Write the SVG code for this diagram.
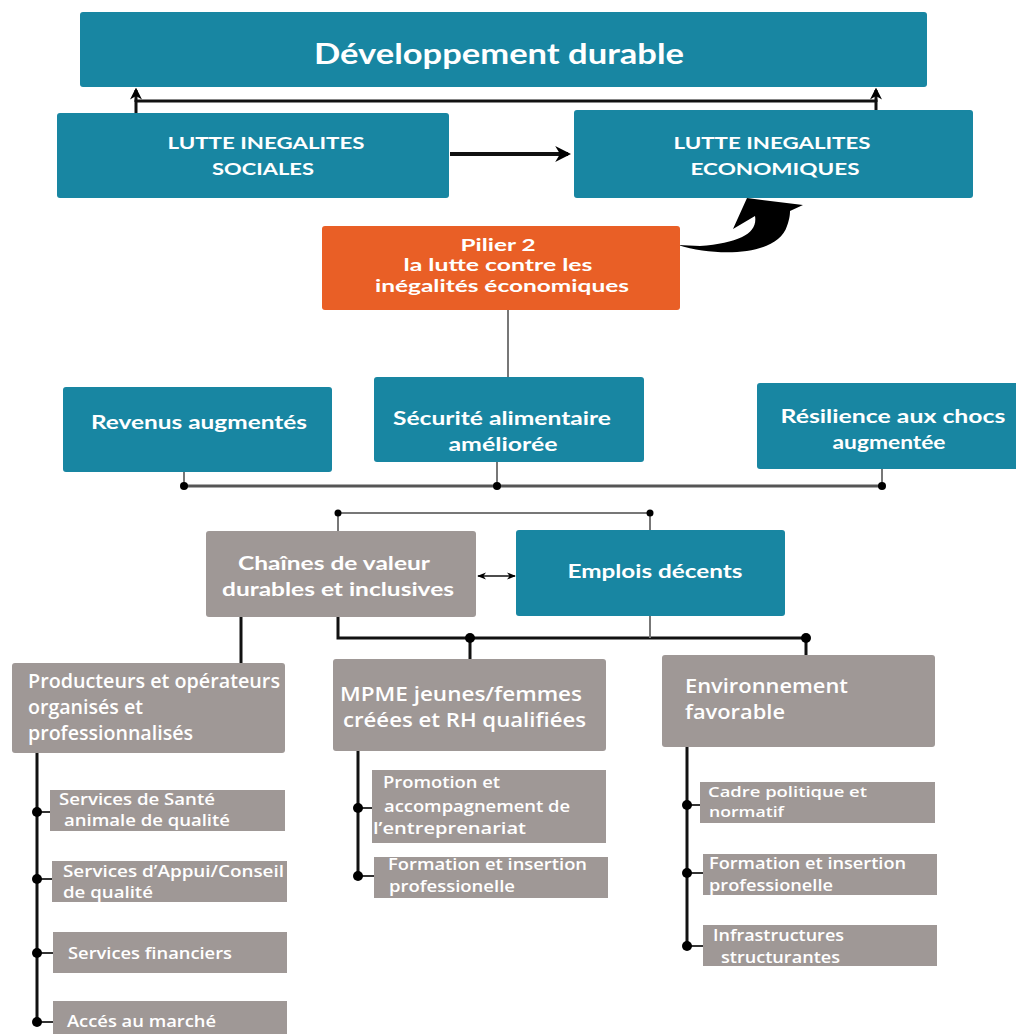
<svg xmlns="http://www.w3.org/2000/svg" width="1016" height="1034" viewBox="0 0 1016 1034">
<defs>
<style>
.teal{fill:#1886a2}
.gray{fill:#9f9896}
.orange{fill:#e95f26}
.t1{font-family:Lato,"Open Sans",sans-serif;font-weight:bold;fill:#fff;text-anchor:middle}
.t2{font-family:"Open Sans","Noto Sans",sans-serif;font-weight:600;fill:#fff}
.ln{stroke:#111;stroke-width:3;fill:none}
.lg{stroke:#777;stroke-width:2;fill:none}
.thin{stroke:#333;stroke-width:2;fill:none}
.dot{fill:#000}
</style>
<marker id="ah" viewBox="0 0 10 10" refX="8" refY="5" markerWidth="4" markerHeight="4" orient="auto-start-reverse">
<path d="M0,0 L10,5 L0,10 L3,5 Z" fill="#000"/>
</marker>
<marker id="ah2" viewBox="0 0 10 10" refX="9" refY="5" markerWidth="6" markerHeight="6" orient="auto-start-reverse">
<path d="M0,1 L10,5 L0,9 L3,5 Z" fill="#000"/>
</marker>
</defs>
<rect width="1016" height="1034" fill="#fff"/>

<g id="connectors">
<polyline class="ln" points="136,113 136,101 876,101 876,113"/>
<line class="ln" x1="136" y1="102" x2="136" y2="90" marker-end="url(#ah)"/>
<line class="ln" x1="876" y1="102" x2="876" y2="90" marker-end="url(#ah)"/>
<line x1="450" y1="154" x2="568" y2="154" stroke="#111" stroke-width="4" marker-end="url(#ah)"/>
<path d="M678,245 C720,258 778,255 787,226 C790,218 790,213 790,211 L803,205 L747,198 L733,229 L755,216 C758,233 740,243 700,246 Z" fill="#000"/>
<line class="lg" x1="508" y1="310" x2="508" y2="378"/>
<line class="lg" x1="184" y1="472" x2="184" y2="486"/>
<line class="lg" x1="497" y1="462" x2="497" y2="486"/>
<line class="lg" x1="882" y1="469" x2="882" y2="486"/>
<line x1="184" y1="486" x2="882" y2="486" stroke="#555" stroke-width="3"/>
<circle class="dot" cx="184" cy="486" r="4"/>
<circle class="dot" cx="497" cy="486" r="4"/>
<circle class="dot" cx="882" cy="486" r="4"/>
<polyline class="lg" points="338,531 338,513 650,513 650,530"/>
<circle class="dot" cx="338" cy="513" r="3.5"/>
<circle class="dot" cx="650" cy="513" r="3.5"/>
<line x1="478" y1="576" x2="515" y2="576" stroke="#111" stroke-width="1.5" marker-start="url(#ah2)" marker-end="url(#ah2)"/>
<polyline class="ln" points="338,617 338,638 806,638"/>
<line class="lg" x1="650" y1="616" x2="650" y2="638"/>
<line class="ln" x1="470" y1="638" x2="470" y2="659"/>
<line class="ln" x1="806" y1="638" x2="806" y2="655"/>
<circle class="dot" cx="470" cy="638" r="5"/>
<circle class="dot" cx="806" cy="638" r="5"/>
<line class="ln" x1="241" y1="617" x2="241" y2="663"/>
<line class="ln" x1="37" y1="753" x2="37" y2="1022"/>
<line class="thin" x1="37" y1="812" x2="50" y2="812"/>
<line class="thin" x1="37" y1="879" x2="52" y2="879"/>
<line class="thin" x1="37" y1="953" x2="53" y2="953"/>
<line class="thin" x1="37" y1="1022" x2="53" y2="1022"/>
<circle class="dot" cx="37" cy="812" r="5"/>
<circle class="dot" cx="37" cy="879" r="5"/>
<circle class="dot" cx="37" cy="953" r="5"/>
<circle class="dot" cx="37" cy="1022" r="5"/>
<line class="ln" x1="358" y1="751" x2="358" y2="876"/>
<line class="thin" x1="358" y1="808" x2="372" y2="808"/>
<line class="thin" x1="358" y1="876" x2="374" y2="876"/>
<circle class="dot" cx="358" cy="808" r="5"/>
<circle class="dot" cx="358" cy="876" r="5"/>
<line class="ln" x1="687" y1="747" x2="687" y2="946"/>
<line class="thin" x1="687" y1="805" x2="700" y2="805"/>
<line class="thin" x1="687" y1="873" x2="703" y2="873"/>
<line class="thin" x1="687" y1="946" x2="703" y2="946"/>
<circle class="dot" cx="687" cy="805" r="5"/>
<circle class="dot" cx="687" cy="873" r="5"/>
<circle class="dot" cx="687" cy="946" r="5"/>
</g>

<g id="n-dev"><rect class="teal" x="80" y="12" width="847" height="75" rx="3"/>
<text class="t1" x="499" y="64" font-size="29" textLength="370" lengthAdjust="spacingAndGlyphs">Développement durable</text></g>

<g id="n-soc"><rect class="teal" x="57" y="113" width="392" height="85" rx="3"/>
<text class="t1" x="266" y="149" font-size="17.5" textLength="197" lengthAdjust="spacingAndGlyphs">LUTTE INEGALITES</text>
<text class="t1" x="263" y="175" font-size="17.5" textLength="102" lengthAdjust="spacingAndGlyphs">SOCIALES</text></g>

<g id="n-eco"><rect class="teal" x="574" y="110" width="399" height="88" rx="3"/>
<text class="t1" x="772" y="149" font-size="17.5" textLength="197" lengthAdjust="spacingAndGlyphs">LUTTE INEGALITES</text>
<text class="t1" x="775" y="175" font-size="17.5" textLength="169" lengthAdjust="spacingAndGlyphs">ECONOMIQUES</text></g>

<g id="n-pilier"><rect class="orange" x="322" y="226" width="358" height="84" rx="3"/>
<text class="t1" x="498" y="251" font-size="17" textLength="75" lengthAdjust="spacingAndGlyphs">Pilier 2</text>
<text class="t1" x="498" y="271" font-size="17" textLength="189" lengthAdjust="spacingAndGlyphs">la lutte contre les</text>
<text class="t1" x="502" y="292" font-size="17" textLength="254" lengthAdjust="spacingAndGlyphs">inégalités économiques</text></g>

<g id="n-rev"><rect class="teal" x="63" y="387" width="269" height="85" rx="3"/>
<text class="t1" x="199" y="429" font-size="18" textLength="216" lengthAdjust="spacingAndGlyphs">Revenus augmentés</text></g>

<g id="n-secu"><rect class="teal" x="374" y="377" width="270" height="85" rx="3"/>
<text class="t1" x="502" y="425" font-size="18" textLength="218" lengthAdjust="spacingAndGlyphs">Sécurité alimentaire</text>
<text class="t1" x="503" y="451" font-size="18" textLength="109" lengthAdjust="spacingAndGlyphs">améliorée</text></g>

<g id="n-resi"><rect class="teal" x="757" y="383" width="265" height="86" rx="3"/>
<text class="t1" x="893" y="423" font-size="18" textLength="225" lengthAdjust="spacingAndGlyphs">Résilience aux  chocs</text>
<text class="t1" x="889" y="449" font-size="18" textLength="113" lengthAdjust="spacingAndGlyphs">augmentée</text></g>

<g id="n-chaines"><rect class="gray" x="206" y="531" width="270" height="86" rx="3"/>
<text class="t1" x="334" y="570" font-size="18" textLength="192" lengthAdjust="spacingAndGlyphs">Chaînes de valeur</text>
<text class="t1" x="338" y="596" font-size="18" textLength="232" lengthAdjust="spacingAndGlyphs">durables et inclusives</text></g>

<g id="n-emplois"><rect class="teal" x="516" y="530" width="269" height="86" rx="3"/>
<text class="t1" x="655" y="578" font-size="18" textLength="175" lengthAdjust="spacingAndGlyphs">Emplois décents</text></g>

<g id="n-prod"><rect class="gray" x="12" y="663" width="273" height="90" rx="3"/>
<text class="t2" x="28" y="688" font-size="19" textLength="252" lengthAdjust="spacingAndGlyphs">Producteurs et opérateurs</text>
<text class="t2" x="28" y="714" font-size="19" textLength="115" lengthAdjust="spacingAndGlyphs">organisés et</text>
<text class="t2" x="28" y="740" font-size="19" textLength="165" lengthAdjust="spacingAndGlyphs">professionnalisés</text></g>

<g id="n-mpme"><rect class="gray" x="333" y="659" width="273" height="92" rx="3"/>
<text class="t2" x="340" y="701" font-size="19" textLength="242" lengthAdjust="spacingAndGlyphs">MPME jeunes/femmes</text>
<text class="t2" x="343" y="727" font-size="19" textLength="243" lengthAdjust="spacingAndGlyphs">créées et RH qualifiées</text></g>

<g id="n-env"><rect class="gray" x="662" y="655" width="273" height="92" rx="3"/>
<text class="t2" x="685" y="693" font-size="19" textLength="163" lengthAdjust="spacingAndGlyphs">Environnement</text>
<text class="t2" x="685" y="719" font-size="19" textLength="100" lengthAdjust="spacingAndGlyphs">favorable</text></g>

<g id="n-sante"><rect class="gray" x="50" y="790" width="235" height="41"/>
<text class="t2" x="59" y="805" font-size="16" textLength="156" lengthAdjust="spacingAndGlyphs">Services de Santé</text>
<text class="t2" x="64" y="826" font-size="16" textLength="166" lengthAdjust="spacingAndGlyphs">animale de qualité</text></g>

<g id="n-appui"><rect class="gray" x="52" y="861" width="235" height="41"/>
<text class="t2" x="63" y="877" font-size="16" textLength="221" lengthAdjust="spacingAndGlyphs">Services d’Appui/Conseil</text>
<text class="t2" x="63" y="898" font-size="16" textLength="90" lengthAdjust="spacingAndGlyphs">de qualité</text></g>

<g id="n-fin"><rect class="gray" x="53" y="932" width="234" height="41"/>
<text class="t2" x="68" y="959" font-size="16" textLength="164" lengthAdjust="spacingAndGlyphs">Services financiers</text></g>

<g id="n-marche"><rect class="gray" x="53" y="1001" width="234" height="33"/>
<text class="t2" x="67" y="1027" font-size="16" textLength="149" lengthAdjust="spacingAndGlyphs">Accés au marché</text></g>

<g id="n-promo"><rect class="gray" x="372" y="770" width="234" height="73"/>
<text class="t2" x="383" y="788" font-size="16" textLength="117" lengthAdjust="spacingAndGlyphs">Promotion et</text>
<text class="t2" x="384" y="812" font-size="16" textLength="186" lengthAdjust="spacingAndGlyphs">accompagnement de</text>
<text class="t2" x="373" y="834" font-size="16" textLength="153" lengthAdjust="spacingAndGlyphs">l’entreprenariat</text></g>

<g id="n-form1"><rect class="gray" x="374" y="857" width="234" height="41"/>
<text class="t2" x="388" y="870" font-size="16" textLength="199" lengthAdjust="spacingAndGlyphs">Formation et insertion</text>
<text class="t2" x="389" y="892" font-size="16" textLength="126" lengthAdjust="spacingAndGlyphs">professionelle</text></g>

<g id="n-cadre"><rect class="gray" x="700" y="782" width="235" height="41"/>
<text class="t2" x="708" y="797" font-size="15" textLength="159" lengthAdjust="spacingAndGlyphs">Cadre politique et</text>
<text class="t2" x="709" y="817" font-size="15" textLength="75" lengthAdjust="spacingAndGlyphs">normatif</text></g>

<g id="n-form2"><rect class="gray" x="703" y="854" width="234" height="41"/>
<text class="t2" x="709" y="869" font-size="16" textLength="197" lengthAdjust="spacingAndGlyphs">Formation et insertion</text>
<text class="t2" x="709" y="891" font-size="16" textLength="124" lengthAdjust="spacingAndGlyphs">professionelle</text></g>

<g id="n-infra"><rect class="gray" x="703" y="925" width="234" height="41"/>
<text class="t2" x="713" y="941" font-size="16" textLength="131" lengthAdjust="spacingAndGlyphs">Infrastructures</text>
<text class="t2" x="721" y="963" font-size="16" textLength="119" lengthAdjust="spacingAndGlyphs">structurantes</text></g>
</svg>
